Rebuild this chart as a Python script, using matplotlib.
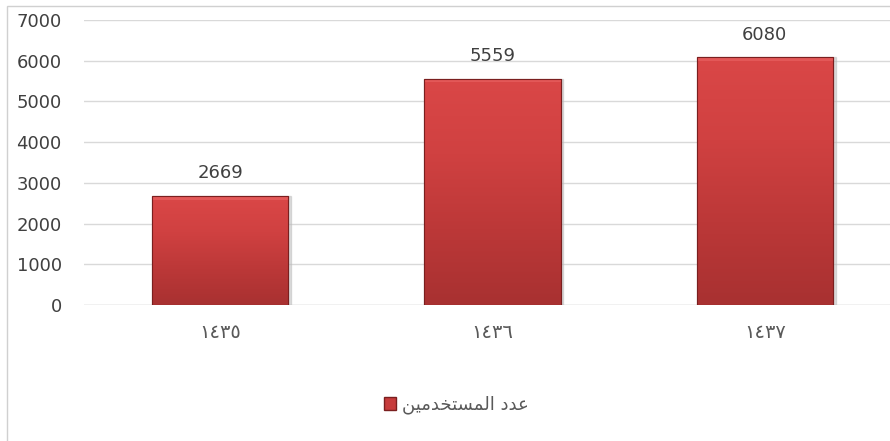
import numpy as np
import matplotlib.pyplot as plt
from matplotlib.colors import LinearSegmentedColormap
from matplotlib.patches import Rectangle

years = ['\u0661\u0664\u0663\u0665', '\u0661\u0664\u0663\u0666', '\u0661\u0664\u0663\u0667']
users = [2669, 5559, 6080]
yticks = [0, 1000, 2000, 3000, 4000, 5000, 6000, 7000]
# "عدد المستخدمين" written with presentation forms in visual order
series_name = ('\uFEE6\uFEF4\uFEE3\uFEAA\uFEA8\uFE98\uFEB4\uFEE4\uFEDF\uFE8D'
               ' \uFEA9\uFEAA\uFECB')

txt = '#404040'
grid = '#D9D9D9'
cmap = LinearSegmentedColormap.from_list('bar', ['#A83131', '#BC3838', '#D04141', '#DA4747'])

fig = plt.figure(figsize=(8.9, 4.41), dpi=100)
ax = fig.add_axes([84/890, 1-305/441, 817/890, 285/441])

x = np.arange(len(users))
bars = ax.bar(x, users, width=0.5, color='#C73C3C', edgecolor='#7A1F1F', linewidth=0.8, zorder=3)

grad = np.linspace(0, 1, 256).reshape(-1, 1)
for b in bars:
    x0, w, h = b.get_x(), b.get_width(), b.get_height()
    im = ax.imshow(grad, cmap=cmap, extent=(x0, x0 + w, 0, h), origin='lower',
                   aspect='auto', zorder=3.5)
    im.set_clip_path(b)
    # light bevel at the top, shadow on the right
    ax.add_patch(Rectangle((x0, h - 90), w, 90, color='#F07070', alpha=0.45, lw=0, zorder=3.6))
    ax.add_patch(Rectangle((x0 + w, 0), 0.01, h, color='#BBBBBB', alpha=0.5, zorder=2.5))
    ax.annotate(f'{int(h)}', (x0 + w/2, h), xytext=(0, 10), textcoords='offset points',
                ha='center', va='bottom', fontsize=13, color=txt)
    ax.add_patch(Rectangle((x0, 0), w, h, fill=False, edgecolor='#7A1F1F', linewidth=0.8, zorder=4))

ax.set_xlim(-0.5, 2.5)
ax.set_ylim(0, 7000)
ax.set_yticks(yticks)
ax.set_xticks(x)
ax.set_xticklabels(years, fontsize=14, color='#595959', family=['DejaVu Sans'])
ax.tick_params(axis='y', length=0, pad=16, labelsize=13, labelcolor=txt)
ax.tick_params(axis='x', length=0, pad=13)
ax.grid(axis='y', color=grid, linewidth=1, zorder=0)
ax.set_axisbelow(True)
for s in ax.spines.values():
    s.set_visible(False)
ax.axhline(0, color=grid, linewidth=1, zorder=1)

# chart border (cut off on the right and bottom)
fig.patches.append(Rectangle((7/890, -0.2), 1.3, 1 - 6/441 + 0.2, transform=fig.transFigure,
                             fill=False, edgecolor='#D0D0D0', linewidth=1))

handle = Rectangle((0, 0), 1, 1, facecolor='#C73C3C', edgecolor='#7A1F1F')
fig.legend([handle], [series_name], loc='center', bbox_to_anchor=(456/890, 1-405/441),
           frameon=False, fontsize=13, labelcolor='#595959', handlelength=0.7,
           handleheight=0.7, handletextpad=0.3)

fig.savefig('out.png', dpi=100)
